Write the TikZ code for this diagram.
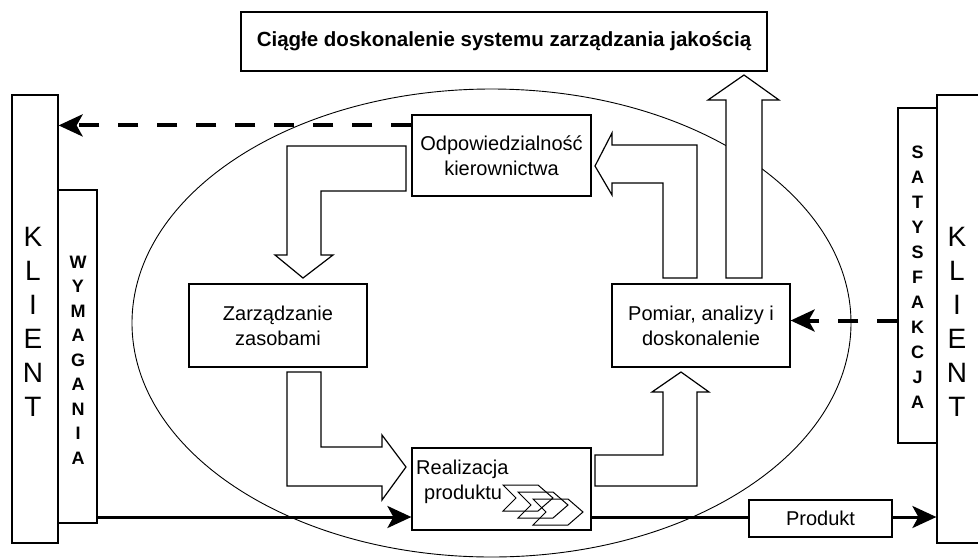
\documentclass[tikz,border=0pt]{standalone}
\usepackage{fontspec}
\setmainfont{Liberation Sans}
\usetikzlibrary{arrows.meta}
\begin{document}
\begin{tikzpicture}[x=1pt,y=-1pt,
  box/.style={draw,line width=1.2pt,fill=white,inner sep=0pt,align=center,font=\fontsize{20}{25}\selectfont},
  letters/.style={align=center,inner sep=0pt},
  blockarrow/.style={draw,line width=1.2pt,fill=white,line join=miter},
  conn/.style={line width=3pt,-{Stealth[length=24pt,width=22pt,inset=6pt]}},
  dconn/.style={conn,line width=4pt,dash pattern=on 20pt off 19pt},
  chev/.style={line width=1pt}]
\useasboundingbox (0,0) rectangle (978,558);
% ellipse
\draw[line width=0.9pt] (491.5,323) ellipse [x radius=359.5pt, y radius=234pt];
% boxes
\node[box,minimum width=526pt,minimum height=59pt,font=\bfseries\fontsize{20.5}{25}\selectfont] (title) at (504,41.5) {Ciągłe doskonalenie systemu zarządzania jakością};
\node[box,minimum width=46pt,minimum height=448pt] (kL) at (35,319) {};
\node[box,minimum width=39pt,minimum height=333pt] (wym) at (77.5,356.5) {};
\node[box,minimum width=53pt,minimum height=448pt] (kR) at (963.5,319) {};
\node[box,minimum width=39pt,minimum height=335pt] (sat) at (917.5,275.5) {};
\node[box,minimum width=179pt,minimum height=81pt] (odp) at (501.5,155.5) {Odpowiedzialność\\kierownictwa};
\node[box,minimum width=178pt,minimum height=83pt] (zar) at (278,325.5) {Zarządzanie\\zasobami};
\node[box,minimum width=178pt,minimum height=83pt] (pom) at (701,325.5) {Pomiar, analizy i\\doskonalenie};
\node[box,minimum width=179pt,minimum height=82pt] (real) at (501.5,489) {};
\node[box,minimum width=143pt,minimum height=37pt] (prod) at (820.5,518.5) {Produkt};
% letter columns
\node[letters,font=\fontsize{28}{34}\selectfont] (kLt) at (33,322) {K\\L\\I\\E\\N\\T};
\node[letters,font=\fontsize{28}{34}\selectfont] (kRt) at (957,322) {K\\L\\I\\E\\N\\T};
\node[letters,font=\bfseries\fontsize{18}{24.5}\selectfont] (wymt) at (78,360) {W\\Y\\M\\A\\G\\A\\N\\I\\A};
\node[letters,font=\bfseries\fontsize{18}{25}\selectfont] (satt) at (917.5,277) {S\\A\\T\\Y\\S\\F\\A\\K\\C\\J\\A};
% block arrows
\draw[blockarrow] (406,146) -- (287,146) -- (287,255) -- (275,255) -- (303,278) -- (333,255) -- (321,255) -- (321,191) -- (406,191) -- cycle;
\draw[blockarrow] (287,372) -- (321,372) -- (321,447) -- (382,447) -- (382,435) -- (406,467) -- (382,500) -- (382,486) -- (287,486) -- cycle;
\draw[blockarrow] (595,455) -- (663,455) -- (663,392) -- (652,392) -- (681,372) -- (709,392) -- (697,392) -- (697,486) -- (595,486) -- cycle;
\draw[blockarrow] (663,278) -- (663,183) -- (612,183) -- (612,195) -- (595,166) -- (612,133) -- (612,145) -- (697,145) -- (697,278) -- cycle;
\draw[blockarrow] (726,278) -- (726,100) -- (708,100) -- (744,75) -- (779,100) -- (762,100) -- (762,278) -- cycle;
% connectors
\coordinate (dL) at ([yshift=-11pt]odp.north west);
\draw[dconn] (dL) -- (dL -| kL.east);
\coordinate (bl) at ([yshift=-28pt]real.west);
\draw[conn] (bl -| wym.east) -- (bl);
\draw[line width=3pt] (bl -| real.east) -- (bl -| prod.west);
\draw[conn] (bl -| prod.east) -- (bl -| kR.west);
\coordinate (pr) at ([yshift=5pt]pom.east);
\draw[dconn] (pr -| sat.west) -- (pr);
% Realizacja text
\node[anchor=base west,inner sep=0pt,font=\fontsize{20}{25}\selectfont] (rt1) at (416,474) {Realizacja};
\node[anchor=base west,inner sep=0pt,font=\fontsize{20}{25}\selectfont] (rt2) at (424,499) {produktu};
% chevrons
\foreach \i in {0,1,2} {
  \draw[chev,shift={(15*\i,7*\i)}] (503,485) -- (538,485) -- (553,498) -- (538,511) -- (503,511) -- (516,498) -- cycle;
}
\end{tikzpicture}
\end{document}
